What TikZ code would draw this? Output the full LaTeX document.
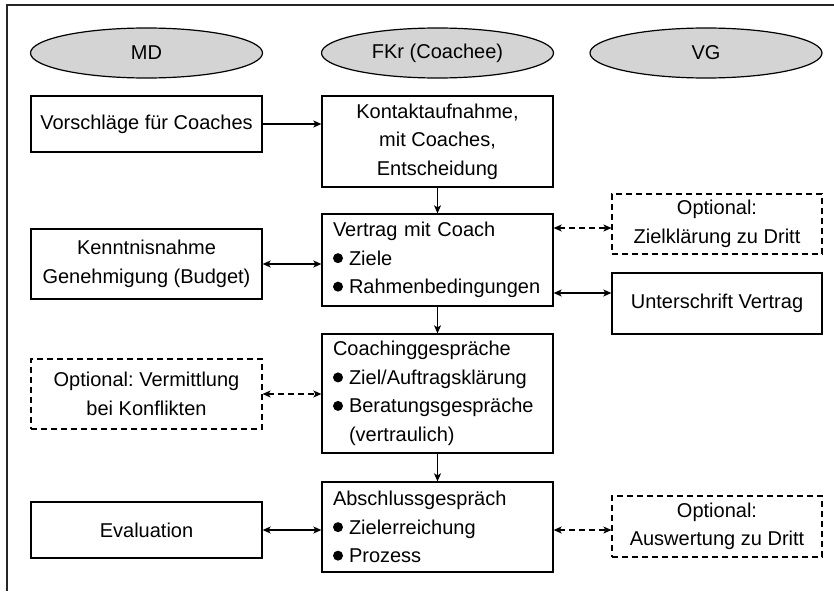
\documentclass[tikz,border=0pt]{standalone}
\usepackage{fontspec}
\setmainfont{Liberation Sans}
\usetikzlibrary{shapes.geometric,arrows.meta,calc}
\frenchspacing
\newcommand{\bul}{\tikz[baseline=-7pt]\fill (0pt,0pt) circle (5pt);\hspace{6pt}}
\tikzset{
  lane/.style={ellipse, draw, line width=1.2pt, fill=black!17, minimum width=232pt, minimum height=50pt, inner sep=0pt},
  box/.style={draw, line width=1.3pt, rectangle, inner sep=0pt, minimum width=231pt, align=center},
  lbox/.style={draw, line width=1.3pt, rectangle, inner xsep=11pt, inner ysep=0pt, text width=209pt, align=left},
  obox/.style={box, dashed, dash pattern=on 6pt off 4pt, line width=1.1pt},
  arr/.style={line width=1.2pt, -{Stealth[length=8pt,width=7pt,inset=2pt]}},
  darr/.style={line width=1.2pt, {Stealth[length=8pt,width=7pt,inset=2pt]}-{Stealth[length=8pt,width=7pt,inset=2pt]}},
  ddarr/.style={darr, dash pattern=on 6pt off 4pt},
}
\begin{document}
\begin{tikzpicture}[x=1pt, y=-1pt, font=\fontsize{20}{28.5}\selectfont]
\useasboundingbox (0,0) rectangle (834,591);
\draw[line width=1.5pt, black!85] (834,5) -- (7,5) -- (7,591);

\node[lane] (md) at (146.5,53) {MD};
\node[lane] (fkr) at (437.5,53) {FKr (Coachee)};
\node[lane] (vg) at (706,53) {VG};

\node[box, minimum height=56pt] (vor) at (146.5,124) {Vorschläge für Coaches};
\node[box, minimum height=91pt] (kon) at (437.5,141.5) {Kontaktaufnahme,\\mit Coaches,\\Entscheidung};
\node[lbox, minimum height=92pt] (ver) at (437.5,260) {Vertrag mit Coach\\\bul Ziele\\\bul Rahmenbedingungen};
\node[lbox, minimum height=119pt] (coa) at (437.5,393.5) {Coachinggespräche\\\bul Ziel/Auftragsklärung\\\bul Beratungsgespräche\\\hspace*{16pt}(vertraulich)};
\node[lbox, minimum height=90pt] (abs) at (437.5,527) {Abschlussgespräch\\\bul Zielerreichung\\\bul Prozess};

\node[box, minimum height=70pt] (ken) at (146.5,264) {Kenntnisnahme\\Genehmigung (Budget)};
\node[obox, minimum height=70pt] (verm) at (146.5,394) {Optional: Vermittlung\\bei Konflikten};
\node[box, minimum height=56pt] (eva) at (146.5,530) {Evaluation};

\node[obox, minimum width=210pt, minimum height=60pt] (ziel) at (717,224) {Optional:\\Zielklärung zu Dritt};
\node[box, minimum width=210pt, minimum height=61pt] (unt) at (717,303.5) {Unterschrift Vertrag};
\node[obox, minimum width=210pt, minimum height=61pt] (ausw) at (717,526.5) {Optional:\\Auswertung zu Dritt};

\draw[arr] (vor.east) -- (vor.east -| kon.west);
\draw[arr] (kon.south) -- (ver.north);
\draw[arr] (ver.south) -- (coa.north);
\draw[arr] (coa.south) -- (abs.north);

\draw[darr] (ken.east) -- (ken.east -| ver.west);
\coordinate (zy) at ([yshift=-4pt]ziel.west);
\draw[ddarr] (zy -| ver.east) -- (zy);
\coordinate (uy) at ([yshift=10.5pt]unt.west);
\draw[darr] (uy -| ver.east) -- (uy);
\draw[ddarr] (verm.east) -- (verm.east -| coa.west);
\draw[darr] (eva.east) -- (eva.east -| abs.west);
\draw[ddarr] (eva.east -| abs.east) -- (eva.east -| ausw.west);
\end{tikzpicture}
\end{document}
